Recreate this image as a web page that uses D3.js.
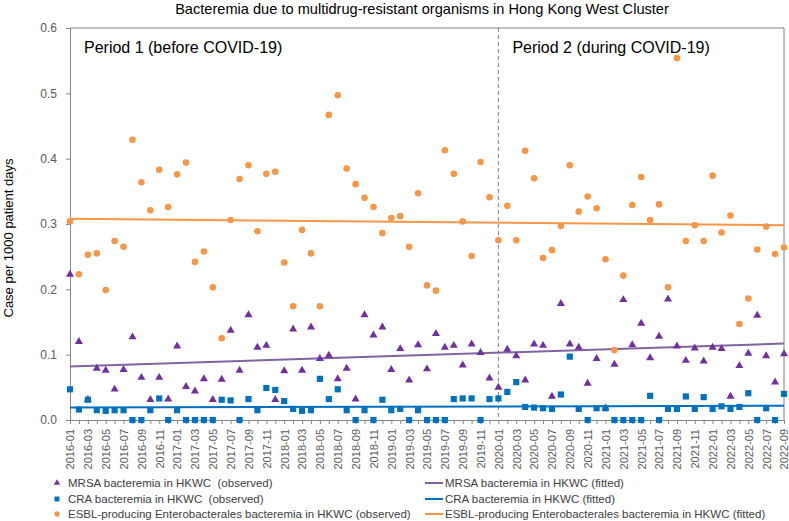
<!DOCTYPE html>
<html>
<head>
<meta charset="utf-8">
<script src="https://cdn.jsdelivr.net/npm/d3@7"></script>
<style>
  body { margin: 0; background: #fff; }
  svg text { font-family: "Liberation Sans", Arial, sans-serif; }
</style>
</head>
<body>
<div id="chart"></div>
<script>
// month labels, 2016-01 .. 2022-09
let months = [
  "2016-01","2016-02","2016-03","2016-04","2016-05","2016-06","2016-07","2016-08","2016-09","2016-10","2016-11","2016-12",
  "2017-01","2017-02","2017-03","2017-04","2017-05","2017-06","2017-07","2017-08","2017-09","2017-10","2017-11","2017-12",
  "2018-01","2018-02","2018-03","2018-04","2018-05","2018-06","2018-07","2018-08","2018-09","2018-10","2018-11","2018-12",
  "2019-01","2019-02","2019-03","2019-04","2019-05","2019-06","2019-07","2019-08","2019-09","2019-10","2019-11","2019-12",
  "2020-01","2020-02","2020-03","2020-04","2020-05","2020-06","2020-07","2020-08","2020-09","2020-10","2020-11","2020-12",
  "2021-01","2021-02","2021-03","2021-04","2021-05","2021-06","2021-07","2021-08","2021-09","2021-10","2021-11","2021-12",
  "2022-01","2022-02","2022-03","2022-04","2022-05","2022-06","2022-07","2022-08","2022-09"
];

let mrsa = [
  0.223,0.120,0.031,0.079,0.076,0.047,0.077,0.127,0.065,0.031,0.065,0.032,
  0.113,0.051,0.044,0.063,0.031,0.062,0.137,0.076,0.161,0.111,0.114,0.031,
  0.075,0.139,0.076,0.142,0.094,0.099,0.063,0.079,0.032,0.161,0.130,0.142,
  0.077,0.109,0.061,0.115,0.078,0.132,0.111,0.114,0.084,0.116,0.103,0.064,
  0.050,0.108,0.098,0.061,0.116,0.114,0.036,0.178,0.116,0.111,0.056,0.094,
  0.018,0.085,0.184,0.115,0.148,0.095,0.128,0.185,0.113,0.091,0.110,0.090,
  0.111,0.109,0.036,0.083,0.102,0.160,0.098,0.058,0.101
];

let cra = [
  0.047,0.016,0.031,0.015,0.014,0.015,0.015,0,0,0.015,0.033,0,
  0.015,0,0,0,0,0.031,0.030,0,0.032,0.015,0.049,0.046,
  0.029,0.017,0.014,0.015,0.063,0.032,0.047,0.015,0,0.015,0,0.031,
  0.015,0.017,0,0.015,0,0,0,0.032,0.033,0.033,0,0.032,
  0.033,0.043,0.058,0.020,0.019,0.018,0.017,0.039,0.097,0.017,0,0.018,
  0.018,0,0,0,0,0.037,0,0.017,0.017,0.036,0.017,0.035,
  0.017,0.021,0.017,0.020,0.041,0,0.018,0,0.040
];

let esbl = [
  0.304,0.223,0.253,0.255,0.199,0.274,0.265,0.429,0.364,0.321,0.383,0.326,
  0.376,0.394,0.242,0.258,0.203,0.125,0.306,0.369,0.390,0.289,0.377,0.380,
  0.241,0.174,0.291,0.255,0.174,0.467,0.497,0.385,0.361,0.340,0.326,0.286,
  0.309,0.312,0.265,0.347,0.206,0.198,0.413,0.377,0.304,0.251,0.395,0.341,
  0.275,0.328,0.275,0.412,0.370,0.248,0.260,0.297,0.390,0.319,0.342,0.324,
  0.246,0.107,0.221,0.329,0.372,0.306,0.330,0.203,0.554,0.274,0.298,0.274,
  0.374,0.287,0.313,0.147,0.186,0.261,0.296,0.254,0.264
];

// fitted trend lines: value at first and last month
let mrsaFit = [0.082, 0.117];
let craFit = [0.019, 0.022];
let esblFit = [0.308, 0.298];

let yTicks = [0, 0.1, 0.2, 0.3, 0.4, 0.5, 0.6];
let covidStart = "2020-01";

let margin = {top: 28, right: 5, bottom: 101, left: 70};
let width = 789 - margin.left - margin.right;
let height = 521 - margin.top - margin.bottom;

let svg = d3.select('#chart')
    .append('svg')
    .attr('width', 789)
    .attr('height', 521);

let g = svg.append('g').attr('transform', 'translate(' + margin.left + ',' + margin.top + ')');

let x = d3.scaleLinear().domain([0, months.length - 1]).range([0, width]);
let y = d3.scaleLinear().domain([0, 0.6]).range([height, 0]);

let colMrsa = '#7030A0', colCra = '#0070C0', colEsbl = '#F79646';
let colMrsaFit = '#8064A2';

// Title
svg.append('text')
    .attr('x', 422)
    .attr('y', 14)
    .attr('text-anchor', 'middle')
    .attr('font-size', '14.6px')
    .attr('fill', '#000')
    .text('Bacteremia due to multidrug-resistant organisms in Hong Kong West Cluster');

// Y axis label
svg.append('text')
    .attr('transform', 'translate(13,238) rotate(-90)')
    .attr('text-anchor', 'middle')
    .attr('font-size', '13px')
    .attr('fill', '#000')
    .text('Case per 1000 patient days');

// box (top & right)
g.append('line').attr('x1', 0).attr('x2', width).attr('y1', 0).attr('y2', 0)
    .attr('stroke', '#7f7f7f');
g.append('line').attr('x1', width).attr('x2', width).attr('y1', 0).attr('y2', height)
    .attr('stroke', '#7f7f7f');

// Y axis
let yAxisCall = d3.axisLeft(y).tickValues(yTicks).tickSize(4).tickPadding(9).tickFormat(d3.format('.1f'));
let yAxis = g.append('g').call(yAxisCall);
yAxis.selectAll('text').attr('font-size', '12px').attr('fill', '#595959');

// X axis
let xAxisCall = d3.axisBottom(x).tickValues(d3.range(months.length)).tickSize(4)
    .tickFormat(function (d) { return d % 2 === 0 ? months[d] : ''; });
let xAxis = g.append('g').attr('transform', 'translate(0,' + height + ')').call(xAxisCall);
xAxis.selectAll('text')
    .attr('transform', 'rotate(-90)')
    .attr('x', -9)
    .attr('y', 0)
    .attr('dy', '0.35em')
    .attr('text-anchor', 'end')
    .attr('font-size', '11px')
    .attr('fill', '#595959');

[yAxis, xAxis].forEach(function (a) {
    a.select('.domain').attr('stroke', '#868686');
    a.selectAll('.tick line').attr('stroke', '#868686');
});

// COVID divider
let xc = x(months.indexOf(covidStart));
g.append('line')
    .attr('x1', xc).attr('x2', xc).attr('y1', 0).attr('y2', height)
    .attr('stroke', '#7f7f7f')
    .attr('stroke-dasharray', '4,3');

g.append('text').attr('x', 14).attr('y', 25).attr('font-size', '16px').text('Period 1 (before COVID-19)');
g.append('text').attr('x', xc + 14).attr('y', 25).attr('font-size', '16px').text('Period 2 (during COVID-19)');

// fitted lines
let fits = [[mrsaFit, colMrsaFit], [craFit, colCra], [esblFit, colEsbl]];
fits.forEach(function (f) {
    g.append('line')
        .attr('x1', x(0)).attr('x2', x(months.length - 1))
        .attr('y1', y(f[0][0])).attr('y2', y(f[0][1]))
        .attr('stroke', f[1])
        .attr('stroke-width', 2);
});

let tri = d3.symbol().type(d3.symbolTriangle).size(28);
let sq = d3.symbol().type(d3.symbolSquare).size(38);
let circ = d3.symbol().type(d3.symbolCircle).size(34);

function drawPoints(data, sym, color) {
    g.append('g').selectAll('path').data(data).enter()
        .append('path')
        .attr('d', sym)
        .attr('transform', function (d, i) { return 'translate(' + x(i) + ',' + y(d) + ')'; })
        .attr('fill', color);
}

drawPoints(esbl, circ, colEsbl);
drawPoints(mrsa, tri, colMrsa);
drawPoints(cra, sq, colCra);

// Legend
let legLeft = [
    ['MRSA bacteremia in HKWC  (observed)', tri, colMrsa],
    ['CRA bacteremia in HKWC  (observed)', sq, colCra],
    ['ESBL-producing Enterobacterales bacteremia in HKWC (observed)', circ, colEsbl]
];
let legRight = [
    ['MRSA bacteremia in HKWC (fitted)', colMrsaFit],
    ['CRA bacteremia in HKWC (fitted)', colCra],
    ['ESBL-producing Enterobacterales bacteremia in HKWC (fitted)', colEsbl]
];
let legRows = [483, 499, 514];

legLeft.forEach(function (d, i) {
    svg.append('path').attr('d', d[1]).attr('fill', d[2])
        .attr('transform', 'translate(57,' + legRows[i] + ') scale(0.8)');
    svg.append('text').attr('x', 68).attr('y', legRows[i] + 4)
        .attr('font-size', '11.5px').attr('fill', '#404040')
        .style('white-space', 'pre')
        .text(d[0]);
});
legRight.forEach(function (d, i) {
    svg.append('line').attr('x1', 425).attr('x2', 443)
        .attr('y1', legRows[i]).attr('y2', legRows[i])
        .attr('stroke', d[1]).attr('stroke-width', 2);
    svg.append('text').attr('x', 445).attr('y', legRows[i] + 4)
        .attr('font-size', '11.5px').attr('fill', '#404040')
        .text(d[0]);
});
</script>
</body>
</html>
